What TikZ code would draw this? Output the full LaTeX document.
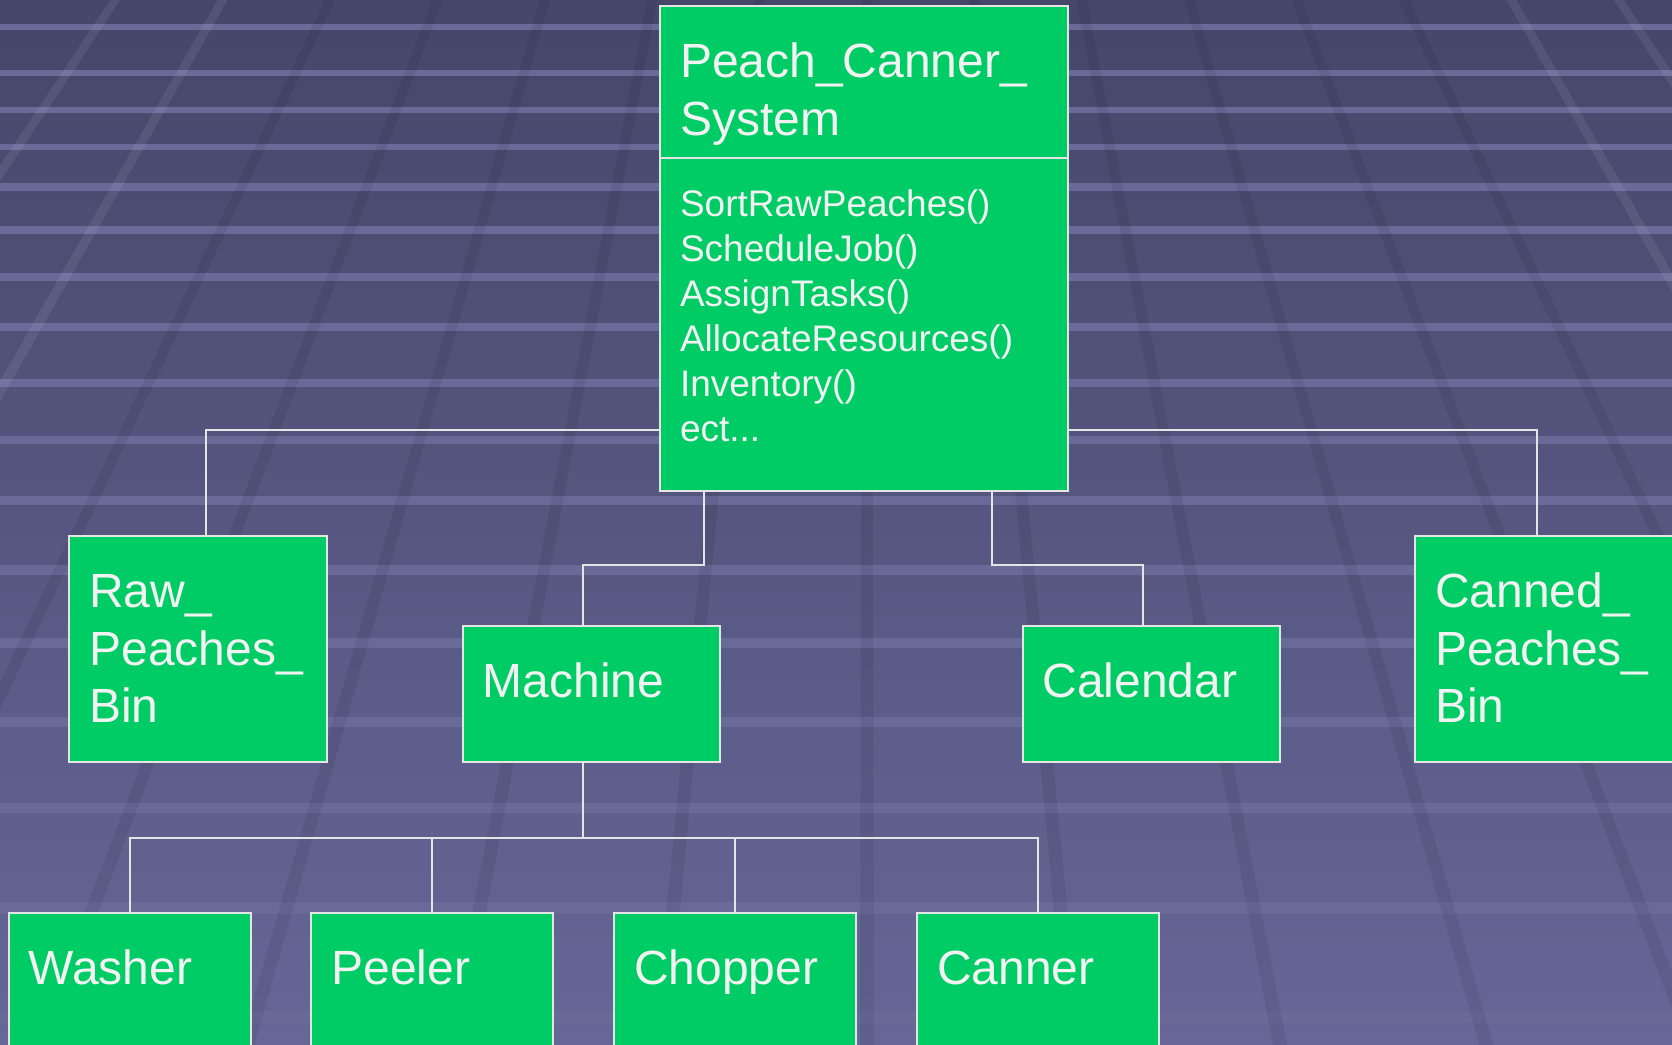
\documentclass[tikz,border=0pt]{standalone}
\usepackage{fontspec}
\setmainfont{Liberation Sans}
\usetikzlibrary{positioning, calc}
\definecolor{bgtop}{RGB}{70,70,106}
\definecolor{bgbot}{RGB}{102,103,151}
\definecolor{bandc}{RGB}{106,106,153}
\definecolor{boxgreen}{RGB}{0,204,102}
\definecolor{edge}{RGB}{228,228,228}
\definecolor{ink}{RGB}{242,242,242}

\begin{document}
\begin{tikzpicture}[
    x=0.5pt, y=-0.5pt,
    cls/.style     = {draw=edge, line width=1pt, fill=boxgreen, text=ink, align=left, anchor=north west, inner xsep=10pt, inner ysep=0pt, outer sep=0pt, font=\fontsize{24}{28.75}\selectfont, text height=35.75pt},
    methods/.style = {cls, font=\fontsize{18.5}{22.5}\selectfont, text height=29.5pt},
    tall/.style    = {cls, text width=109pt, text depth=77.25pt},
    mid/.style     = {cls, text width=108.5pt, text depth=32.45pt},
    part/.style    = {cls, text width=101pt, text depth=41pt},
    band/.style    = {fill=bandc},
    shade/.style   = {fill=black, fill opacity=0.07},
    glint/.style   = {fill=white, fill opacity=0.07},
    link/.style    = {draw=edge, line width=1pt},
  ]
  \useasboundingbox (0,0) rectangle (1672,1045);

  % Backdrop: shaded floor with a perspective grid
  \fill[top color=bgtop, bottom color=bgbot] (0,0) rectangle (1672,1045);
  \foreach \y in {27,73,110,147,187,230,277,327,383,440,500,570,643,722,808,908,1017}
    \fill[band] (0,\y-3-0.003*\y) rectangle (1672,\y+3+0.003*\y);
  \foreach \k in {-7,...,7}{
    \pgfmathsetmacro\xt{867+107.4*\k}
    \pgfmathsetmacro\xb{867+206.5*\k}
    \pgfmathtruncatemacro\far{abs(\k)>5}
    \ifnum\far=1
      \fill[glint] (\xt-5,0) -- (\xt+5,0) -- (\xb+7,1045) -- (\xb-7,1045) -- cycle;
    \else
      \fill[shade] (\xt-5,0) -- (\xt+5,0) -- (\xb+7,1045) -- (\xb-7,1045) -- cycle;
    \fi
  }

  % Main class
  \node[cls, text width=184pt, text height=35.75pt, text depth=40pt] (sys) at (660,6) {Peach\_Canner\_\\System};
  \node[methods, text width=184pt, text depth=137pt, below=0pt of sys] (ops)
    {SortRawPeaches()\\ScheduleJob()\\AssignTasks()\\AllocateResources()\\Inventory()\\ect...};
  % Second row
  \node[tall] (raw) at (69.3,536.4) {Raw\_\\Peaches\_\\Bin};
  \node[mid] (machine) at (462.8,626) {Machine};
  \node[mid] (calendar) at (1022.6,626) {Calendar};
  \node[tall] (canned) at (1415,536.4) {Canned\_\\Peaches\_\\Bin};
  % Machine parts
  \node[part] (washer) at (8.5,912.8) {Washer};
  \node[part] (peeler) at (311.4,912.8) {Peeler};
  \node[part] (chopper) at (614.2,912.8) {Chopper};
  \node[part] (canner) at (917,912.8) {Canner};

  % Links
  \draw[link] ([yshift=30.25pt]ops.south west) -| ([xshift=3.75pt]raw.north);
  \draw[link] ([yshift=30.25pt]ops.south east) -| ([xshift=-3.75pt]canned.north);
  \draw[link] ([xshift=21.9pt]ops.south west) -- ++(0pt,-37.35pt) -| ([xshift=-4pt]machine.north);
  \draw[link] ([xshift=-38.15pt]ops.south east) -- ++(0pt,-37.35pt) -| ([xshift=-4pt]calendar.north);
  \draw[link] ([xshift=-4pt]machine.south) -- ++(0pt,-37.8pt) coordinate (bus);
  \foreach \n in {washer, peeler, chopper, canner}
    \draw[link] (bus) -| (\n.north);
\end{tikzpicture}
\end{document}
